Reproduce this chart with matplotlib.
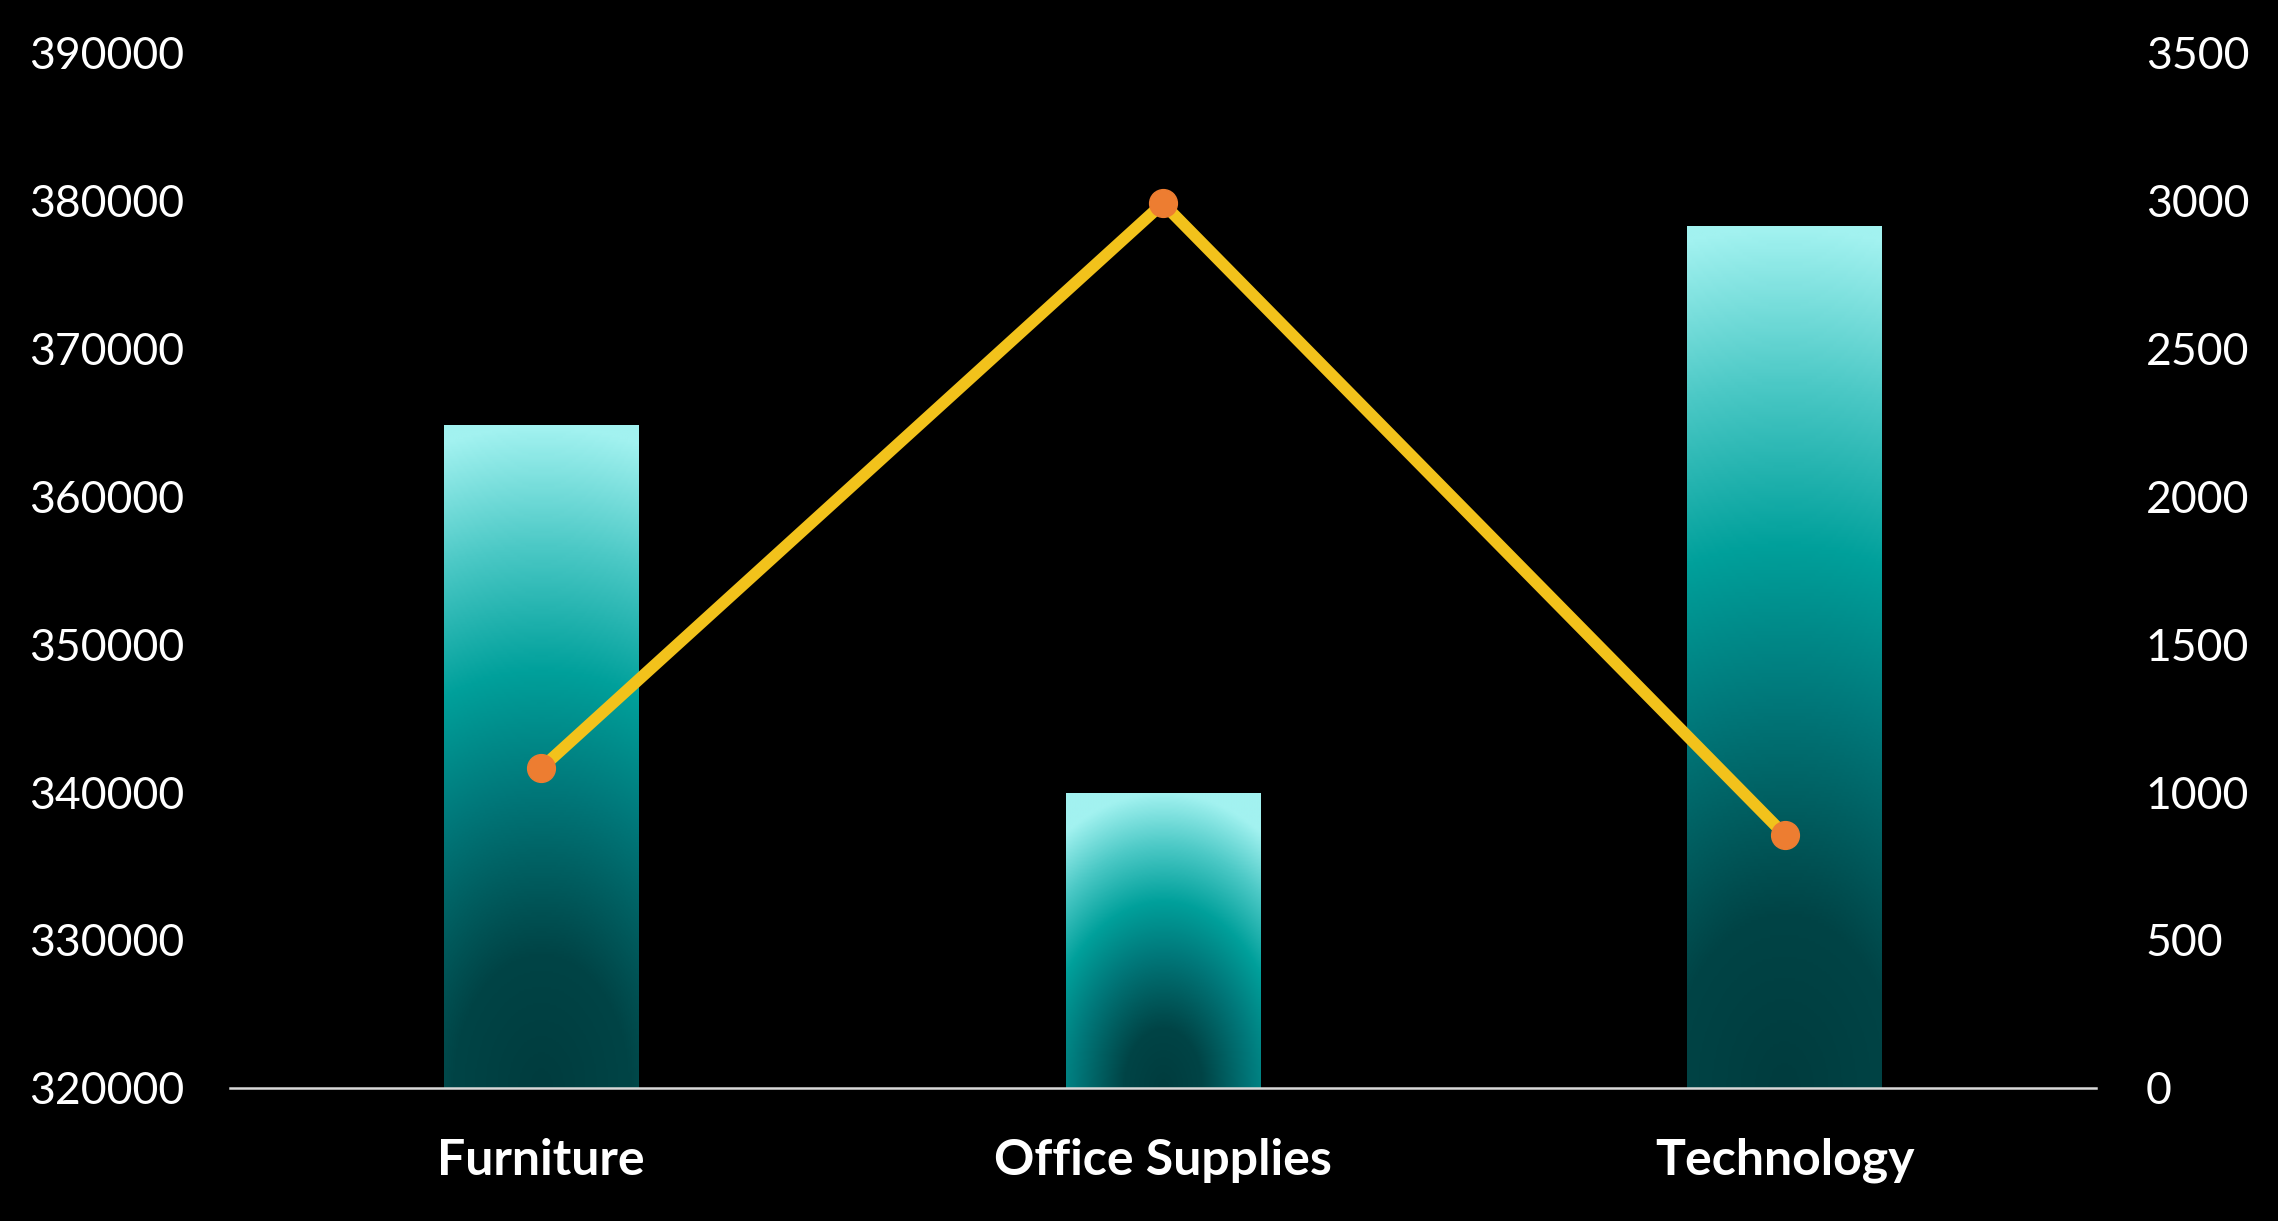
import matplotlib.pyplot as plt
import numpy as np
from matplotlib.colors import LinearSegmentedColormap

# data
categories = ["Furniture", "Office Supplies", "Technology"]
sales = [364800, 339950, 378250]
profit_line = [1080, 2990, 855]

left_ticks = [320000, 330000, 340000, 350000, 360000, 370000, 380000, 390000]
right_ticks = [0, 500, 1000, 1500, 2000, 2500, 3000, 3500]

plt.rcParams["font.family"] = ["Lato", "DejaVu Sans"]

# gradient used inside each bar (0 = bottom centre, 1 = top)
bar_cmap = LinearSegmentedColormap.from_list(
    "teal_glow",
    [(0.0, "#003c3e"), (0.2, "#004446"), (0.45, "#00787a"),
     (0.63, "#00a09b"), (0.82, "#4cc9c6"), (1.0, "#a2f2f0")],
)

W, H = 2278, 1221
ax_box = [0.101, 0.109, 0.819, 0.848]
fig = plt.figure(figsize=(W / 100, H / 100), dpi=100, facecolor="black")
ax = fig.add_axes(ax_box)
ax.set_facecolor("black")

x = np.arange(len(categories))
bar_w = 0.313
bottom = left_ticks[0]
span = left_ticks[-1] - left_ticks[0]
bars = ax.bar(x, np.array(sales) - bottom, bottom=bottom, width=bar_w,
              color="none", edgecolor="none")

# fill each bar with its own gradient, radial around the bottom centre
ax_w_px = ax_box[2] * W
ax_h_px = ax_box[3] * H
ny, nx = 300, 120
yy, xx = np.mgrid[0:1:ny * 1j, -1:1:nx * 1j]
for rect in bars:
    x0 = rect.get_x()
    y0 = rect.get_y()
    half_px = rect.get_width() / 2 / len(categories) * ax_w_px
    h_px = rect.get_height() / span * ax_h_px
    k = 1.5 * half_px / h_px
    t = np.clip(np.sqrt((xx * k) ** 2 + yy ** 2), 0, 1)
    im = ax.imshow(t, cmap=bar_cmap, vmin=0, vmax=1, origin="lower", aspect="auto",
                   extent=[x0, x0 + rect.get_width(), y0, y0 + rect.get_height()],
                   interpolation="bilinear", zorder=2)
    im.set_clip_path(rect)

ax.set_xlim(-0.5, len(categories) - 0.5)
ax.set_ylim(left_ticks[0], left_ticks[-1])
ax.set_yticks(left_ticks)
ax.set_yticklabels([str(v) for v in left_ticks])
ax.set_xticks(x)
ax.set_xticklabels(categories, fontweight="bold")

for s in ["top", "right", "left"]:
    ax.spines[s].set_visible(False)
ax.spines["bottom"].set_color("#d9d9d9")
ax.spines["bottom"].set_linewidth(1.8)
ax.tick_params(axis="y", length=0, pad=33, labelsize=32, labelcolor="white")
ax.tick_params(axis="x", length=0, pad=36, labelsize=36, labelcolor="white")

ax2 = ax.twinx()
ax2.set_facecolor("none")
ax2.plot(x, profit_line, color="#f2c21b", linewidth=8.5, solid_capstyle="round",
         marker="o", markersize=20, markerfacecolor="#ed7d31",
         markeredgecolor="#ed7d31", zorder=3)
ax2.set_ylim(right_ticks[0], right_ticks[-1])
ax2.set_yticks(right_ticks)
ax2.set_yticklabels([str(v) for v in right_ticks])
for s in ax2.spines.values():
    s.set_visible(False)
ax2.tick_params(axis="y", length=0, pad=36, labelsize=32, labelcolor="white")

fig.savefig("out.png", dpi=100, facecolor="black")
